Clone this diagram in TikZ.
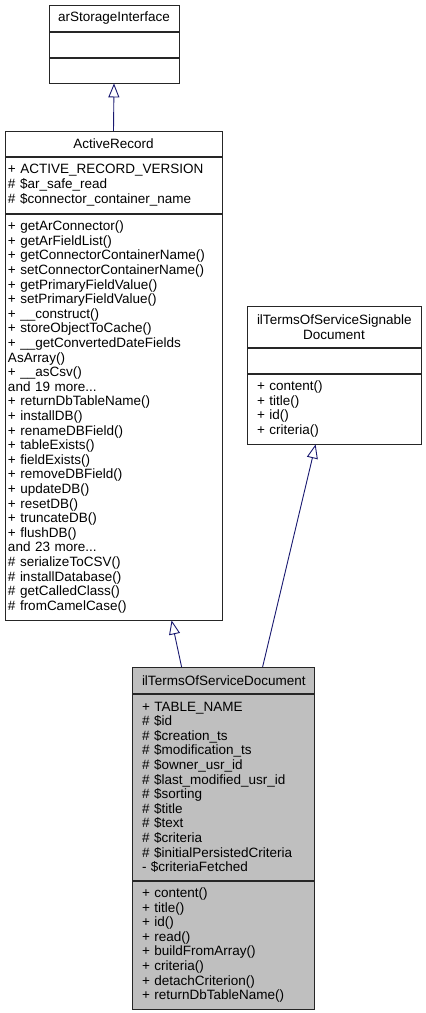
\documentclass[tikz,border=0pt]{standalone}
\usepackage{fontspec}
\setmainfont{Liberation Sans}
\usetikzlibrary{arrows.meta, positioning, calc}
\definecolor{edgeblue}{RGB}{25,25,112}
\definecolor{docgray}{RGB}{191,191,191}
\newcommand{\umlfont}{\fontsize{13.5}{14.6}\selectfont}

\begin{document}
\begin{tikzpicture}[
		% --- estilos de las clases ---
		part/.style = {draw=black!85, line width=0.8pt, rectangle, inner ysep=0pt, font=\umlfont, anchor=north},
		head/.style = {part, align=center},
		members/.style = {part, align=left},
		inherit/.style = {draw=edgeblue, line width=0.9pt, -{Triangle[open, length=14pt, width=11pt]}},
		node distance=0pt
		]
		\useasboundingbox (0,0) rectangle (426pt,-1013pt);
		
		% --- arStorageInterface ---
		\node [head, inner xsep=4pt, text width=122pt, minimum height=26pt] (stg) at (114pt,-5pt) {arStorageInterface};
		\node [members, inner xsep=4pt, text width=122pt, minimum height=25pt, below=of stg] (stgattr) {};
		\node [members, inner xsep=4pt, text width=122pt, minimum height=25pt, below=of stgattr] (stgop) {};
		
		% --- ActiveRecord ---
		\node [head, inner xsep=3pt, text width=211pt, minimum height=25pt] (ar) at (113.5pt,-131pt) {ActiveRecord};
		\node [members, inner xsep=3pt, text width=211pt, minimum height=56pt, below=of ar] (arattr) {+ ACTIVE\_RECORD\_VERSION\\\# \$ar\_safe\_read\\\# \$connector\_container\_name};
		\node [members, inner xsep=3pt, text width=211pt, minimum height=406pt, below=of arattr] (arop) {+ getArConnector()\\+ getArFieldList()\\+ getConnectorContainerName()\\+ setConnectorContainerName()\\+ getPrimaryFieldValue()\\+ setPrimaryFieldValue()\\+ \_\_construct()\\+ storeObjectToCache()\\+ \_\_getConvertedDateFields\\AsArray()\\+ \_\_asCsv()\\and 19 more...\\+ returnDbTableName()\\+ installDB()\\+ renameDBField()\\+ tableExists()\\+ fieldExists()\\+ removeDBField()\\+ updateDB()\\+ resetDB()\\+ truncateDB()\\+ flushDB()\\and 23 more...\\\# serializeToCSV()\\\# installDatabase()\\\# getCalledClass()\\\# fromCamelCase()};
		
		% --- ilTermsOfServiceSignableDocument ---
		\node [head, inner xsep=10pt, text width=154pt, minimum height=41pt] (sig) at (334pt,-306pt) {ilTermsOfServiceSignable\\Document};
		\node [members, inner xsep=10pt, text width=154pt, minimum height=25pt, below=of sig] (sigattr) {};
		\node [members, inner xsep=10pt, text width=154pt, minimum height=70pt, below=of sigattr] (sigop) {+ content()\\+ title()\\+ id()\\+ criteria()};
		
		% --- ilTermsOfServiceDocument (clase actual, gris) ---
		\node [head, fill=docgray, inner xsep=10pt, text width=162pt, minimum height=26pt] (doc) at (223pt,-667pt) {ilTermsOfServiceDocument};
		\node [members, fill=docgray, inner xsep=10pt, text width=162pt, minimum height=186pt, below=of doc] (docattr) {+ TABLE\_NAME\\\# \$id\\\# \$creation\_ts\\\# \$modification\_ts\\\# \$owner\_usr\_id\\\# \$last\_modified\_usr\_id\\\# \$sorting\\\# \$title\\\# \$text\\\# \$criteria\\\# \$initialPersistedCriteria\\- \$criteriaFetched};
		\node [members, fill=docgray, inner xsep=10pt, text width=162pt, minimum height=128pt, below=of docattr] (docop) {+ content()\\+ title()\\+ id()\\+ read()\\+ buildFromArray()\\+ criteria()\\+ detachCriterion()\\+ returnDbTableName()};
		
		% --- herencia ---
		\draw [inherit] (ar.north) -- (stgop.south);
		\draw [inherit] ($(doc.north west)+(50pt,0)$) -- ($(arop.south west)+(167pt,0)$);
		\draw [inherit] ($(doc.north west)+(131pt,0)$) -- ($(sigop.south west)+(69pt,0)$);
		
	\end{tikzpicture}
\end{document}
